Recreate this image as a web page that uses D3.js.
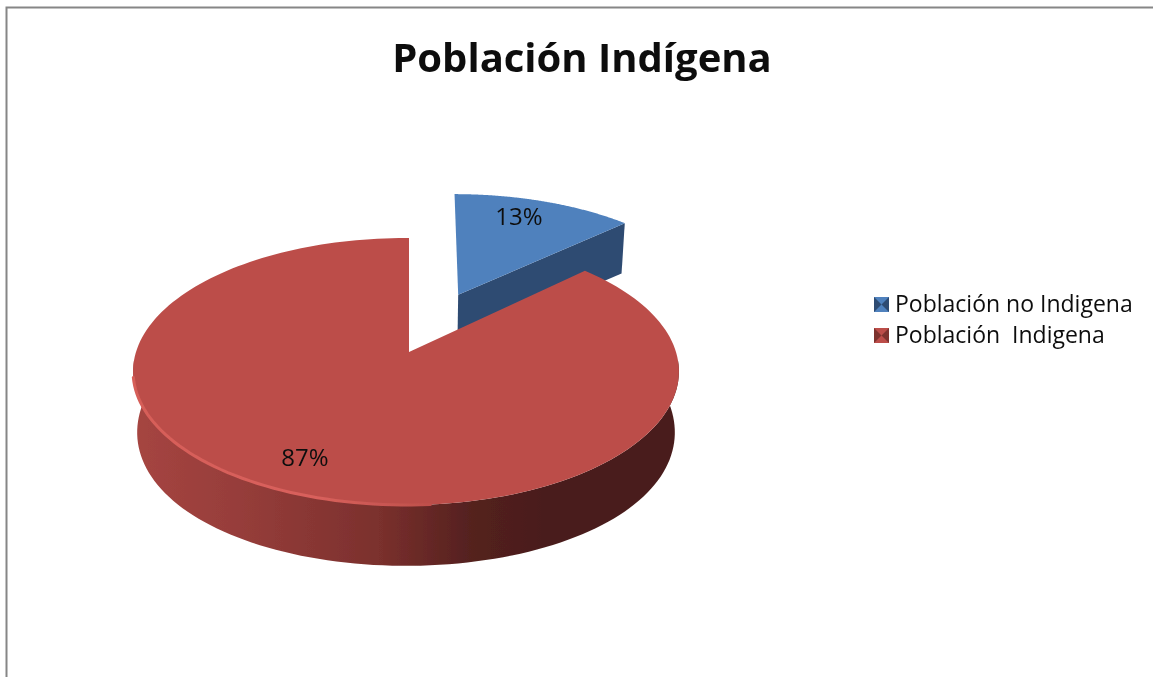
<!DOCTYPE html>
<html>
<head>
<meta charset="utf-8">
<script src="https://cdn.jsdelivr.net/npm/d3@7"></script>
<style>
  html, body { margin: 0; padding: 0; background: #fff; overflow: hidden; }
  text { font-family: "Open Sans", Lato, sans-serif; fill: #111; white-space: pre; }
</style>
</head>
<body>
<div id="chart"></div>
<script>
const title = "Población Indígena";
const categories = ["Población no Indigena", "Población  Indigena"];
const values = [13, 87];
const valueLabels = ["13%", "87%"];
const topColors = ["#4f81bd", "#bc4e4a"];
const wallColors = ["#2f4b72", "#7d312e"];

const width = 1153, height = 677;

const svg = d3.select("#chart").append("svg")
    .attr("width", width)
    .attr("height", height);

const defs = svg.append("defs");

const blur = defs.append("filter").attr("id", "soft")
    .attr("x", "-5%").attr("y", "-5%").attr("width", "110%").attr("height", "110%");
blur.append("feGaussianBlur").attr("stdDeviation", 0.5);

const textBlur = defs.append("filter").attr("id", "soft-text")
    .attr("x", "-5%").attr("y", "-20%").attr("width", "110%").attr("height", "140%");
textBlur.append("feGaussianBlur").attr("stdDeviation", 0.35);

// frame, only top and left show in the crop
svg.append("path")
    .attr("d", "M6.5,677V7.5H1153")
    .attr("fill", "none")
    .attr("stroke", "#868686")
    .attr("stroke-width", 2);

svg.append("text")
    .attr("x", 582)
    .attr("y", 72)
    .attr("text-anchor", "middle")
    .attr("filter", "url(#soft-text)")
    .style("font-size", "40px")
    .style("font-weight", 700)
    .text(title);

// tilted disc: unit circle -> screen, with some perspective
const cx = 406, cy = 352, rx = 270, tilt = 130.6, persp = 0.146;
const depth = 52, explode = 0.51;

function project(u, v, z, shift) {
    const s = 1 / (1 - persp * v);
    const narrow = 1 - 0.015 * z;
    const sideDrop = z ? 1 + 0.15 * u * u : 1;
    return [cx + (shift || 0) + rx * u * s * narrow, cy + tilt * v * s + depth * z * s * sideDrop];
}

const pie = d3.pie().sort(null).value(d => d)
    .startAngle(0).endAngle(2 * Math.PI);
const arcs = pie(values);

const line = d3.line();

function slicePoints(d, off, z, shift) {
    const steps = d3.range(0, 181).map(i => d.startAngle + (d.endAngle - d.startAngle) * i / 180);
    return steps.map(a => project(off[0] + Math.sin(a), off[1] - Math.cos(a), z, shift));
}

const redWall = defs.append("linearGradient")
    .attr("id", "wall-red").attr("gradientUnits", "userSpaceOnUse")
    .attr("x1", 132).attr("x2", 679).attr("y1", 0).attr("y2", 0);
[[0, "#a64541"], [0.2, "#963d3a"], [0.45, "#7b302d"], [0.62, "#54211f"], [0.75, "#4a1d1b"], [1, "#4a1d1b"]]
    .forEach(s => redWall.append("stop").attr("offset", s[0]).attr("stop-color", s[1]));

const rimGlow = defs.append("linearGradient")
    .attr("id", "rim-glow").attr("gradientUnits", "userSpaceOnUse")
    .attr("x1", 132).attr("x2", 440).attr("y1", 0).attr("y2", 0);
[[0, "#d65e59"], [0.6, "#d9615c"], [1, "#bc4e4a"]]
    .forEach(s => rimGlow.append("stop").attr("offset", s[0]).attr("stop-color", s[1]));

// blue slice (pushed out along its bisector), drawn first so red covers it
const blue = arcs[0];
const mid = (blue.startAngle + blue.endAngle) / 2;
const off = [Math.sin(mid) * explode, -Math.cos(mid) * explode];
const blueShift = 3.5;
const blueGroup = svg.append("g").attr("filter", "url(#soft)");

const blueOuterTop = slicePoints(blue, off, 0, blueShift);
const blueApexTop = project(off[0], off[1], 0, blueShift - 2.5);
const blueApexBot = project(off[0], off[1], 1, blueShift - 2.5);
const blueEnd = blueOuterTop[blueOuterTop.length - 1];
const blueEndBot = project(off[0] + Math.sin(blue.endAngle), off[1] - Math.cos(blue.endAngle), 1, blueShift);

blueGroup.append("path")
    .attr("d", line([blueApexTop, blueEnd, blueEndBot, blueApexBot]) + "Z")
    .attr("fill", wallColors[0]);
blueGroup.append("path")
    .attr("d", line([blueApexTop, ...blueOuterTop]) + "Z")
    .attr("fill", topColors[0]);

// red slice
const red = arcs[1];
const redGroup = svg.append("g").attr("filter", "url(#soft)");
const redApex = [409, cy];
const redTop = slicePoints(red, [0, 0], 0);
const redBot = slicePoints(red, [0, 0], 1);
// the back of the rim starts straight above the apex
redTop[redTop.length - 1] = [409, redTop[redTop.length - 1][1]];

// outer wall only where the rim faces the viewer
const frontTop = redTop.filter(p => p[1] > 360);
const frontBot = redBot.filter(p => p[1] > 380);
redGroup.append("path")
    .attr("d", line([...frontTop, ...frontBot.reverse()]) + "Z")
    .attr("fill", "url(#wall-red)");

redGroup.append("path")
    .attr("d", line([redApex, ...redTop]) + "Z")
    .attr("fill", topColors[1]);

// light rim along the front edge
redGroup.append("path")
    .attr("d", line(redTop.filter(p => p[1] > 376 && p[0] < 440)))
    .attr("fill", "none")
    .attr("stroke", "url(#rim-glow)")
    .attr("stroke-width", 3)
    .attr("stroke-linecap", "round");

// value labels
const labelPos = [[519, 225], [305, 466]];
svg.selectAll(".value-label")
    .data(valueLabels)
    .enter().append("text")
    .attr("class", "value-label")
    .attr("x", (d, i) => labelPos[i][0])
    .attr("y", (d, i) => labelPos[i][1])
    .attr("text-anchor", "middle")
    .attr("filter", "url(#soft-text)")
    .style("font-size", "24px")
    .text(d => d);

// legend
const legendY = d3.scalePoint().domain(categories).range([304, 335]);
const legend = svg.selectAll(".legend-item")
    .data(categories)
    .enter().append("g")
    .attr("class", "legend-item")
    .attr("transform", d => `translate(874,${legendY(d)})`);

const marker = legend.append("g").attr("filter", "url(#soft)");
marker.append("rect")
    .attr("y", -7).attr("width", 15).attr("height", 15)
    .attr("fill", (d, i) => topColors[i]);
marker.append("path")
    .attr("d", "M0,-7L7.5,0.5L0,8Z")
    .attr("fill", (d, i) => wallColors[i]);
marker.append("path")
    .attr("d", "M15,-7L7.5,0.5L15,8Z")
    .attr("fill", (d, i) => wallColors[i]);
legend.append("text")
    .attr("x", 21)
    .attr("y", 8)
    .attr("filter", "url(#soft-text)")
    .style("font-size", "23px")
    .text(d => d);
</script>
</body>
</html>
